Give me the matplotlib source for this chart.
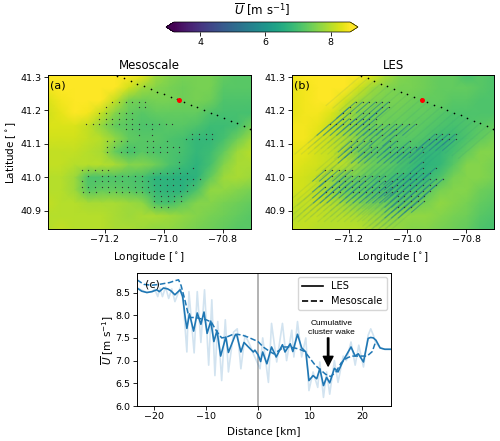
import matplotlib
matplotlib.use('Agg')
import matplotlib.pyplot as plt
from matplotlib.collections import LineCollection
import numpy as np

# wind speed on a coarse lon/lat grid
grid_lon = [-71.395, -71.349, -71.303, -71.257, -71.211, -71.165, -71.119, -71.073,
            -71.027, -70.981, -70.935, -70.889, -70.843, -70.797, -70.751, -70.705]
grid_lat = [41.306, 41.268, 41.230, 41.192, 41.153, 41.115, 41.077, 41.038,
            41.000, 40.962, 40.923, 40.885, 40.846]

u_meso = [
    [8.6, 8.6, 8.6, 8.6, 8.6, 8.6, 8.6, 8.4, 7.8, 7.6, 7.5, 7.5, 7.5, 7.3, 7.2, 7.2],
    [8.5, 8.6, 8.6, 8.6, 8.6, 8.6, 8.2, 7.8, 7.6, 7.5, 7.4, 7.5, 7.5, 7.2, 7.2, 7.2],
    [8.3, 8.5, 8.6, 8.6, 8.6, 8.1, 7.5, 7.4, 7.5, 7.5, 7.4, 7.5, 7.4, 7.1, 7.1, 7.1],
    [8.2, 8.4, 8.6, 8.5, 8.1, 7.6, 7.3, 7.2, 7.3, 7.3, 7.3, 7.3, 7.1, 7.0, 7.0, 7.0],
    [8.3, 8.3, 8.3, 8.1, 7.7, 7.3, 7.2, 7.1, 7.1, 7.2, 7.2, 7.1, 6.9, 6.9, 7.0, 7.4],
    [8.2, 8.2, 8.2, 8.1, 8.0, 7.7, 7.3, 7.2, 7.2, 7.1, 7.0, 6.8, 6.8, 7.0, 7.4, 7.8],
    [8.1, 8.1, 8.1, 8.0, 7.9, 7.3, 7.0, 7.2, 7.1, 7.1, 7.0, 6.8, 6.9, 7.3, 7.8, 8.0],
    [8.1, 8.1, 8.0, 8.0, 8.0, 7.9, 7.6, 7.6, 7.4, 7.1, 6.9, 6.7, 7.0, 7.6, 7.9, 7.9],
    [8.0, 8.0, 7.8, 7.1, 7.1, 7.1, 7.1, 7.0, 6.7, 6.7, 6.6, 6.7, 7.3, 7.8, 7.9, 7.8],
    [8.0, 8.0, 7.8, 7.2, 7.3, 7.3, 7.2, 7.1, 6.8, 6.7, 6.7, 7.1, 7.7, 7.7, 7.6, 7.5],
    [8.1, 8.0, 8.0, 7.9, 7.9, 7.9, 7.8, 7.7, 7.1, 7.0, 7.3, 7.6, 7.6, 7.5, 7.4, 7.3],
    [8.0, 8.0, 8.0, 8.0, 8.0, 7.9, 7.8, 7.9, 7.9, 7.8, 7.7, 7.6, 7.5, 7.4, 7.3, 7.2],
    [8.0, 8.1, 8.0, 8.0, 8.0, 7.9, 7.9, 7.8, 7.7, 7.7, 7.6, 7.5, 7.4, 7.3, 7.2, 7.2],
]

u_les = [
    [8.5, 8.6, 8.6, 8.6, 8.6, 8.6, 8.3, 7.9, 7.6, 7.5, 7.4, 7.3, 7.3, 7.0, 7.2, 7.1],
    [8.4, 8.5, 8.6, 8.6, 8.6, 8.2, 7.8, 7.6, 7.5, 7.5, 7.4, 7.3, 7.3, 7.3, 7.2, 7.1],
    [8.4, 8.5, 8.6, 8.6, 8.2, 7.8, 7.6, 7.5, 7.5, 7.4, 7.3, 7.3, 7.2, 7.2, 7.1, 7.1],
    [8.4, 8.5, 8.5, 8.3, 7.9, 7.6, 7.5, 7.4, 7.4, 7.3, 7.3, 7.2, 7.1, 7.1, 7.1, 7.1],
    [8.5, 8.5, 8.4, 8.1, 7.8, 7.6, 7.4, 7.4, 7.3, 7.3, 7.2, 7.1, 7.0, 7.1, 7.2, 7.3],
    [8.5, 8.5, 8.3, 8.1, 7.9, 7.6, 7.4, 7.3, 7.2, 7.2, 7.1, 6.9, 6.9, 7.1, 7.3, 7.5],
    [8.4, 8.4, 8.2, 8.1, 7.9, 7.5, 7.3, 7.2, 7.1, 7.0, 6.8, 6.8, 7.0, 7.3, 7.6, 7.6],
    [8.4, 8.3, 8.2, 8.1, 8.0, 7.7, 7.4, 7.3, 7.1, 6.9, 6.7, 6.8, 7.2, 7.6, 7.6, 7.5],
    [8.3, 8.2, 8.1, 7.8, 7.5, 7.4, 7.2, 7.1, 6.9, 6.8, 6.8, 7.1, 7.5, 7.6, 7.6, 7.5],
    [8.2, 8.2, 8.0, 7.7, 7.4, 7.3, 7.2, 7.1, 7.0, 7.0, 7.2, 7.5, 7.6, 7.6, 7.4, 7.3],
    [8.1, 8.1, 8.1, 8.0, 7.8, 7.6, 7.5, 7.4, 7.3, 7.4, 7.5, 7.7, 7.6, 7.5, 7.3, 7.2],
    [8.0, 8.1, 8.1, 8.0, 8.0, 7.9, 7.8, 7.7, 7.7, 7.7, 7.7, 7.6, 7.5, 7.4, 7.2, 7.1],
    [8.1, 8.1, 8.0, 8.0, 8.0, 8.0, 7.9, 7.8, 7.7, 7.6, 7.6, 7.5, 7.4, 7.3, 7.1, 7.0],
]

# turbine rows: latitude, then the longitudes in that row
turbine_rows = [
    (41.226, [-71.175, -71.152, -71.130, -71.107, -71.085, -71.063]),
    (41.210, [-71.197, -71.085, -71.063]),
    (41.192, [-71.219, -71.197, -71.152, -71.130, -71.107]),
    (41.176, [-71.219, -71.197, -71.175, -71.152, -71.130, -71.107]),
    (41.159, [-71.264, -71.242, -71.219, -71.197, -71.175, -71.152, -71.130, -71.107,
              -71.085, -71.062, -71.040, -71.017, -70.994, -70.972]),
    (41.144, [-71.130, -71.107, -71.085, -71.040]),
    (41.127, [-71.085, -71.040]),
    (41.130, [-70.904, -70.881, -70.859, -70.836]),
    (41.109, [-71.192, -71.170, -71.147, -71.124, -71.059, -71.036, -70.991]),
    (41.114, [-70.926, -70.904, -70.881, -70.859, -70.836]),
    (41.092, [-71.192, -71.170, -71.124, -71.102, -71.059, -71.036, -71.014, -70.991,
              -70.971, -70.950]),
    (41.076, [-71.192, -71.147, -71.124, -71.102, -71.059, -71.036, -71.014, -70.991, -70.948]),
    (41.046, [-70.948]),
    (41.029, [-70.948, -70.903]),
    (41.022, [-71.279, -71.256, -71.234, -71.211, -71.189]),
    (41.012, [-71.036, -71.014, -70.991, -70.969, -70.946, -70.923]),
    (41.005, [-71.256, -71.211, -71.189, -71.166, -71.143, -71.121, -71.098, -71.076]),
    (40.996, [-71.034, -71.014, -70.991, -70.969, -70.946, -70.923, -70.901, -70.878]),
    (40.990, [-71.279, -71.234, -71.211, -71.189, -71.166, -71.143, -71.098, -71.076, -71.053]),
    (40.978, [-71.034, -71.014, -70.991, -70.969, -70.946, -70.923, -70.901]),
    (40.972, [-71.279, -71.256, -71.234, -71.211, -71.189, -71.166, -71.143, -71.121,
              -71.098, -71.076, -71.053]),
    (40.960, [-71.034, -71.014, -70.991, -70.969, -70.946, -70.923]),
    (40.957, [-71.276, -71.253, -71.230, -71.186, -71.164, -71.141, -71.119, -71.096,
              -71.074, -71.051]),
    (40.944, [-71.033, -71.010, -70.987, -70.965, -70.942]),
    (40.929, [-71.033, -71.010, -70.987, -70.965, -70.942]),
    (40.912, [-71.033, -71.010, -70.987]),
]

# line of turbines along the transect
line_lon = [-71.158, -71.135, -71.113, -71.090, -71.068, -71.045, -71.022, -71.000, -70.977,
            -70.955, -70.932, -70.909, -70.887, -70.864, -70.842, -70.819, -70.797, -70.774,
            -70.752, -70.729, -70.707]
line_lat = [41.304, 41.296, 41.288, 41.280, 41.272, 41.264, 41.256, 41.248, 41.241,
            41.233, 41.225, 41.217, 41.209, 41.201, 41.193, 41.186, 41.178, 41.170,
            41.162, 41.154, 41.146]
marker_lon = -70.949
marker_lat = 41.231

# transect profiles
les_dist = [-23.3, -22.4, -21.4, -20.4, -19.5, -19.0, -18.2, -17.4, -16.8, -16.0, -15.0, -14.5,
            -14.0, -13.7, -13.2, -12.4, -11.7, -11.0, -10.4, -9.8, -9.1, -8.5, -7.9, -7.2,
            -6.2, -5.7, -4.4, -4.1, -3.3, -2.7, -1.85, -0.9, -0.6, 0.0, 0.5, 0.9, 1.7, 2.6,
            3.5, 4.7, 5.2, 6.2, 6.7, 7.6, 8.4, 9.2, 9.8, 10.6, 11.3, 11.9, 12.6, 13.2, 13.8,
            14.7, 15.4, 16.4, 17.0, 17.9, 18.7, 19.3, 20.3, 21.2, 21.7, 22.2, 22.7, 23.5,
            24.4, 25.6]
les_u = [8.60, 8.53, 8.50, 8.52, 8.56, 8.52, 8.60, 8.58, 8.54, 8.45, 8.56, 8.41,
         7.93, 7.71, 8.03, 7.65, 8.05, 7.80, 8.07, 7.60, 7.87, 7.42, 7.66, 7.10,
         7.52, 7.18, 7.56, 7.57, 7.19, 7.40, 7.30, 7.19, 7.23, 7.13, 6.98, 7.19, 6.93, 7.30,
         7.08, 7.35, 7.19, 7.37, 7.20, 7.58, 7.28, 7.19, 6.56, 6.67, 6.60, 6.82, 6.45, 6.63, 6.51,
         6.83, 6.75, 7.00, 7.12, 7.30, 7.10, 7.15, 6.97, 7.49, 7.51, 7.50, 7.45, 7.28,
         7.25, 7.25]

inst_dist = [-23.3, -21.4, -20.4, -19.9, -19.3, -18.9, -18.4, -17.8, -17.2, -16.6, -16.0, -15.0,
             -14.4, -13.7, -13.3, -12.3, -11.7, -11.0, -10.3, -9.5, -8.9, -8.3, -7.75, -7.0,
             -6.3, -5.7, -4.7, -4.0, -3.3, -2.5, -1.66, -0.9, 0.4, 0.9, 2.0, 2.6, 3.6, 4.7,
             5.5, 6.5, 6.9, 7.6, 8.4, 9.2, 9.8, 10.6, 11.5, 11.9, 12.6, 13.2, 13.8, 14.7, 15.4,
             16.4, 17.0, 17.9, 18.7, 19.4, 20.3, 21.2, 21.7, 22.2, 22.6, 23.5, 24.4, 25.6]
inst_u = [8.60, 8.50, 8.52, 8.58, 8.41, 8.60, 8.41, 8.62, 8.37, 8.58, 8.30, 8.60,
          8.30, 7.19, 8.52, 7.17, 8.52, 7.40, 8.56, 6.90, 8.34, 6.67, 7.86, 6.56,
          7.90, 6.75, 7.63, 7.70, 6.82, 7.56, 7.37, 7.15, 6.82, 7.50, 6.52, 7.82, 6.97, 7.82,
          7.00, 7.67, 7.08, 7.86, 7.08, 7.50, 6.34, 6.75, 6.41, 6.97, 6.19, 6.75, 6.26, 7.00, 6.52,
          7.10, 7.00, 7.41, 6.90, 7.34, 6.86, 7.56, 7.70, 7.56, 7.41, 7.28, 7.25, 7.25]

meso_dist = [-23.3, -22, -20.5, -19, -17, -16, -15.3, -14.8, -14, -13.5, -13, -12, -11, -10,
             -9, -8, -7, -6, -5, -4, -3, -2, -1, 0, 1, 2, 3, 4, 5, 6, 7, 8, 9, 10, 11, 12,
             13, 14, 15, 16, 17, 18, 19, 20, 21, 22, 22.6]
meso_u = [8.78, 8.68, 8.66, 8.68, 8.72, 8.76, 8.78, 8.65, 8.30, 8.05, 7.95, 7.95, 7.92, 7.90,
          7.85, 7.65, 7.50, 7.52, 7.57, 7.58, 7.56, 7.52, 7.47, 7.42, 7.30, 7.22, 7.15, 7.22,
          7.30, 7.30, 7.28, 7.25, 7.20, 7.05, 6.90, 6.80, 6.70, 6.65, 6.75, 6.95, 7.05, 7.10,
          7.10, 7.10, 7.10, 7.20, 7.40]

W, H = 500, 441
VMIN, VMAX = 3.2, 8.6
TICK_FS = 6.8
LABEL_FS = 7.5
UBAR = r'$\overline{U}$ [m s$^{-1}$]'


def px_axes(fig, left, top, right, bottom):
    return fig.add_axes([left / W, 1 - bottom / H, (right - left) / W, (bottom - top) / H])


def draw_map(ax, field, title, tag, wakes=False):
    mesh = ax.pcolormesh(grid_lon, grid_lat, np.array(field), shading='gouraud',
                         cmap='viridis', vmin=VMIN, vmax=VMAX)
    tx, ty = [], []
    for lat, lons in turbine_rows:
        tx += lons
        ty += [lat] * len(lons)
    if wakes:
        shade = plt.get_cmap('viridis')((5.6 - VMIN) / (VMAX - VMIN))
        # faint streaks behind every turbine, then the dark near wake
        far = [[(x, y), (x - 0.12, y - 0.09)] for x, y in zip(tx + line_lon, ty + line_lat)]
        ax.add_collection(LineCollection(far, colors=[shade], linewidths=0.9, alpha=0.1))
        near = [[(x, y), (x - 0.045, y - 0.034)] for x, y in zip(tx, ty)]
        ax.add_collection(LineCollection(near, colors=[shade], linewidths=0.7, alpha=0.65))
    ax.plot(tx, ty, ls='none', marker='o', ms=0.95, mew=0, color='#333333')
    ax.plot(line_lon, line_lat, ls='none', marker='o', ms=1.2, mew=0, color='black')
    ax.plot(marker_lon, marker_lat, ls='none', marker='o', ms=3.6, mew=0, color='red')
    ax.set_xlim(-71.393, -70.705)
    ax.set_ylim(40.846, 41.306)
    ax.set_xticks([-71.2, -71.0, -70.8])
    ax.set_yticks([40.9, 41.0, 41.1, 41.2, 41.3])
    ax.set_xlabel(r'Longitude [$^\circ$]', fontsize=LABEL_FS, labelpad=4)
    ax.set_title(title, fontsize=8.5, pad=4)
    ax.text(0.012, 0.935, tag, transform=ax.transAxes, fontsize=8, va='center')
    return mesh


fig = plt.figure(figsize=(W / 100, H / 100), dpi=100)

ax_a = px_axes(fig, 48, 75, 251, 229)
mesh = draw_map(ax_a, u_meso, 'Mesoscale', '(a)')
ax_a.set_ylabel(r'Latitude [$^\circ$]', fontsize=LABEL_FS, labelpad=2)

ax_b = px_axes(fig, 292, 75, 494, 229)
draw_map(ax_b, u_les, 'LES', '(b)', wakes=True)

cax = px_axes(fig, 166, 22, 358, 32)
cbar = fig.colorbar(mesh, cax=cax, orientation='horizontal', extend='both',
                    extendfrac=0.045, ticks=[4, 6, 8])
cbar.set_label(UBAR, fontsize=8.5, labelpad=5)
cax.xaxis.set_label_position('top')
cbar.outline.set_linewidth(0.5)

ax_c = px_axes(fig, 137, 273, 391, 406)
ax_c.axvline(0, color='#a6a6a6', lw=1.2, zorder=1)
ax_c.plot(inst_dist, inst_u, color='C0', lw=1.2, alpha=0.2)
ax_c.plot(les_dist, les_u, color='C0', lw=1.2)
ax_c.plot(meso_dist, meso_u, color='C0', lw=1.1, ls='--')
ax_c.plot([], [], color='k', lw=1.2, label='LES')
ax_c.plot([], [], color='k', lw=1.2, ls='--', label='Mesoscale')
ax_c.legend(loc='upper right', fontsize=7.1, borderaxespad=0.45, handlelength=2.2)
ax_c.annotate('', xy=(13.5, 6.88), xytext=(13.5, 7.5),
              arrowprops=dict(facecolor='black', edgecolor='black', width=1.0,
                              headwidth=7, headlength=7, shrink=0))
ax_c.text(14.1, 7.55, 'Cumulative\ncluster wake', ha='center', va='bottom',
          fontsize=6, family='Liberation Sans', linespacing=1.25)
ax_c.text(0.03, 0.915, '(c)', transform=ax_c.transAxes, fontsize=8, va='center')
ax_c.set_xlim(-23.3, 25.6)
ax_c.set_ylim(6.0, 8.93)
ax_c.set_xticks([-20, -10, 0, 10, 20])
ax_c.set_yticks([6.0, 6.5, 7.0, 7.5, 8.0, 8.5])
ax_c.set_xlabel('Distance [km]', fontsize=LABEL_FS, labelpad=3.5)
ax_c.set_ylabel(UBAR, fontsize=LABEL_FS, labelpad=0)

for ax in [ax_a, ax_b, ax_c, cax]:
    ax.tick_params(labelsize=TICK_FS, width=0.6, length=2.6, pad=2)
for ax in [ax_a, ax_b, ax_c]:
    for s in ax.spines.values():
        s.set_linewidth(0.7)

fig.savefig('out.png', dpi=100)
